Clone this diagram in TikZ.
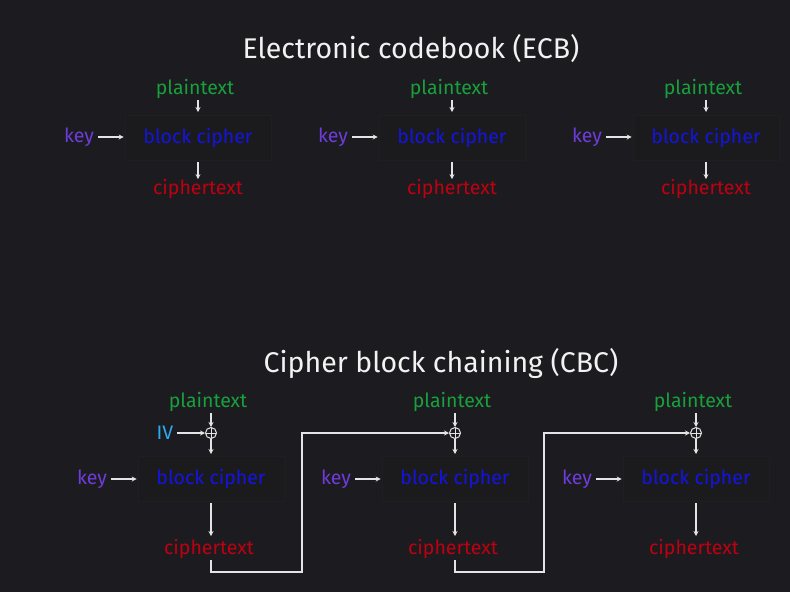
\documentclass[tikz,border=0pt]{standalone}
\usepackage{fontspec}
\setmainfont{Fira Sans}
\usetikzlibrary{arrows.meta}
\definecolor{bg}{HTML}{1C1C20}
\definecolor{boxbg}{HTML}{1B1B1E}
\definecolor{boxln}{HTML}{1F1F23}
\definecolor{linec}{HTML}{E4E4E4}
\definecolor{titlec}{HTML}{F2F2F2}
\definecolor{plainc}{HTML}{17A03C}
\definecolor{blockc}{HTML}{1414E0}
\definecolor{cipherc}{HTML}{BE0010}
\definecolor{keyc}{HTML}{6E3CDA}
\definecolor{ivc}{HTML}{2CAAF0}
\begin{document}
\begin{tikzpicture}[x=1pt,y=-1pt,
  lbl/.style={inner sep=0pt, font=\fontsize{19.5}{22}\selectfont},
  ttl/.style={inner sep=0pt, text=titlec, font=\fontsize{28.5}{32}\selectfont},
  plainlbl/.style={lbl, text=plainc},
  cipherlbl/.style={lbl, text=cipherc},
  keylbl/.style={lbl, text=keyc},
  ivlbl/.style={lbl, text=ivc},
  blockbox/.style={lbl, text=blockc, fill=boxbg, draw=boxln, line width=0.6pt, minimum width=146pt, minimum height=45pt},
  arr/.style={draw=linec, line width=1.2pt, -{Stealth[length=5pt,width=5pt]}},
  xorc/.style={circle, draw=linec, line width=1pt, minimum size=11pt, inner sep=0pt,
    path picture={\draw[linec, line width=1pt] (path picture bounding box.north) -- (path picture bounding box.south)
      (path picture bounding box.west) -- (path picture bounding box.east);}}
]
\fill[bg] (0,0) rectangle (790,592);
\useasboundingbox (0,0) rectangle (790,592);

% ECB
\node[ttl] (ecbtitle) at (411,49) {Electronic codebook (ECB)};
\foreach \i/\x in {1/198,2/452,3/706}{
  \node[blockbox] (eb\i) at (\x,138) {block cipher};
  \node[plainlbl] (ep\i) at (\x-3,89) {plaintext};
  \node[cipherlbl] (ec\i) at (\x,189) {ciphertext};
  \node[keylbl] (ek\i) at (\x-119,137) {key};
  \draw[arr] (ep\i.south -| \x,0) ++(0,1) -- (\x,112);
  \draw[arr] (\x,162) -- (ec\i.north -| \x,0);
  \draw[arr, shorten <=4pt, shorten >=1pt] (ek\i.east) -- (ek\i.east -| eb\i.west);
}

% CBC
\node[ttl] (cbctitle) at (441,363) {Cipher block chaining (CBC)};
\foreach \i/\x in {1/211,2/455,3/696}{
  \node[blockbox] (cb\i) at (\x,479) {block cipher};
  \node[plainlbl] (cp\i) at (\x-3,402) {plaintext};
  \node[cipherlbl] (cc\i) at (\x-2,549) {ciphertext};
  \node[keylbl] (ck\i) at (\x-119,479) {key};
  \node[xorc] (x\i) at (\x,433) {};
  \draw[arr] (cp\i.south -| x\i) ++(0,1) -- (x\i.north);
  \draw[arr] (x\i.south) -- (\x,454);
  \draw[arr] (\x,503) -- (\x,536);
  \draw[arr, shorten <=4pt, shorten >=1pt] (ck\i.east) -- (ck\i.east -| cb\i.west);
}
\node[ivlbl] (iv) at (165,433) {IV};
\draw[arr, shorten <=4pt] (iv.east) -- (x1.west);

\coordinate (t1) at (302,572);
\coordinate (t2) at (544,572);
\draw[arr] (cc1.south -| x1) ++(0,1) |- (t1) |- (x2.west);
\draw[arr] (cc2.south -| x2) ++(0,1) |- (t2) |- (x3.west);
\end{tikzpicture}
\end{document}
